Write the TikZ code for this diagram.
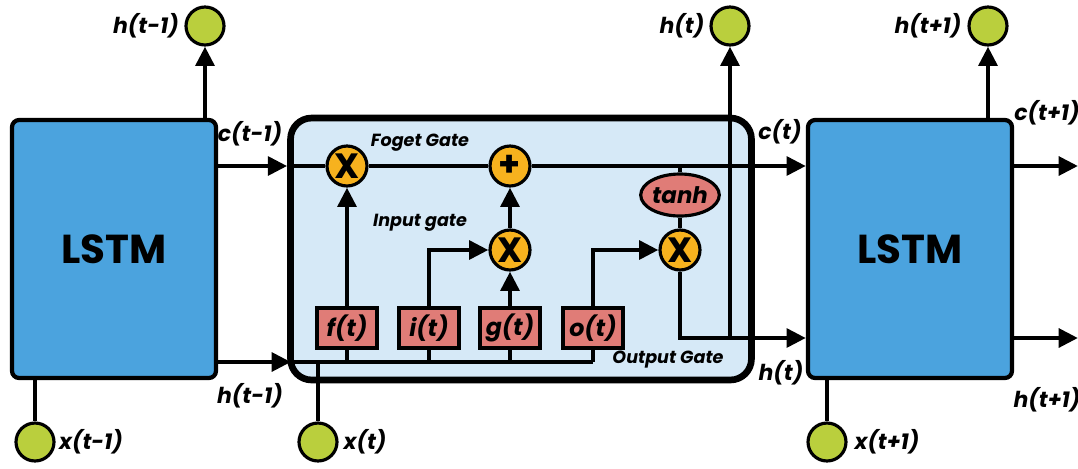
\documentclass[tikz,border=0pt]{standalone}
\usepackage{fontspec}
\setmainfont{Poppins}
\usepackage{tikz}
\usetikzlibrary{arrows.meta, positioning, shapes.geometric, calc}
\definecolor{lstmblue}{HTML}{4BA3DE}
\definecolor{cellblue}{HTML}{D6E9F7}
\definecolor{gatepink}{HTML}{E07C77}
\definecolor{opyellow}{HTML}{F7B21E}
\definecolor{iogreen}{HTML}{BACF3D}

\tikzset{
  wire/.style={line width=2.6pt},
  arr/.style={wire, -{Triangle[length=11pt,width=10.5pt]}},
  lstm/.style={draw, line width=2.4pt, fill=lstmblue, rounded corners=4pt,
    minimum width=4.08cm, minimum height=5.16cm,
    font=\fontsize{23}{25}\selectfont\bfseries},
  cellbox/.style={draw, line width=3.8pt, fill=cellblue, rounded corners=12pt,
    minimum width=9.22cm, minimum height=5.24cm},
  op/.style={circle, draw, line width=1.8pt, fill=opyellow, minimum size=0.8cm,
    inner sep=0pt, font=\fontsize{20}{20}\selectfont\bfseries},
  gatebox/.style={draw, line width=1.8pt, fill=gatepink, minimum width=1.2cm,
    minimum height=0.8cm, inner sep=0pt,
    font=\fontsize{13.5}{13.5}\selectfont\bfseries\itshape},
  act/.style={ellipse, draw, line width=1.8pt, fill=gatepink, minimum width=1.46cm,
    minimum height=0.84cm, inner sep=0pt,
    font=\fontsize{13}{13}\selectfont\bfseries\itshape},
  dot/.style={circle, draw, line width=1.8pt, fill=iogreen, minimum size=0.76cm},
  lab/.style={font=\fontsize{12.5}{12.5}\selectfont\bfseries\itshape},
  gatelab/.style={font=\fontsize{10}{10}\selectfont\bfseries\itshape}
}

\begin{document}
\begin{tikzpicture}[x=0.02cm, y=-0.02cm]
\useasboundingbox (0,0) rectangle (1078,468);

% neighbouring cells and the unrolled cell
\node[lstm] (L1) at (114,249) {LSTM};
\node[lstm] (L2) at (910,249) {LSTM};
\node[cellbox] (cell) at (521,249) {};

% operations inside the cell
\node[op] (mulF) at (347,166) {X};
\node[op] (add) at (510,166) {+};
\node[op] (mulI) at (510,250) {X};
\node[op] (mulO) at (680,250) {X};
\node[act] (tanh) at (680,195) {tanh};

\node[gatebox] (f) at (347,328) {f(t)};
\node[gatebox] (i) at (429,328) {i(t)};
\node[gatebox] (g) at (510,328) {g(t)};
\node[gatebox] (o) at (593,328) {o(t)};

% inputs and outputs
\node[dot] (hA) at (205,26) {};
\node[dot] (hB) at (730,26) {};
\node[dot] (hC) at (988,26) {};
\node[dot] (xA) at (35,442) {};
\node[dot] (xB) at (318,442) {};
\node[dot] (xC) at (827,442) {};

\coordinate (hin) at (291,362);
\coordinate (hjoin) at (730,338);
\coordinate (tap) at (680,166);
\coordinate (cout) at (1078,166);
\coordinate (hout) at (1078,338);

% cell state
\draw[arr] (L1.east |- mulF) -- (cell.west |- mulF);
\draw[wire] (cell.west |- mulF) -- (mulF);
\draw[wire] (mulF) -- (add);
\draw[arr] (add) -- (L2.west |- add);
\draw[wire] (tap) -- (tanh.north);
\draw[wire] (tanh.south) -- (mulO.north);

% hidden state in
\draw[arr] (L1.east |- hin) -- (hin);
\draw[wire] (hin) -- (o.south |- hin);
\draw[wire] (xB) -- (xB |- hin);
\foreach \b in {f,i,g,o}
  \draw[wire] (\b.south) -- (\b.south |- hin);

% gates
\draw[arr] (f.north) -- (mulF.south);
\draw[arr] (i.north) |- (mulI.west);
\draw[arr] (g.north) -- (mulI.south);
\draw[arr] (mulI.north) -- (add.south);
\draw[arr] (o.north) |- (mulO.west);

% hidden state out
\draw[arr] (mulO.south) |- (L2.west |- hjoin);
\draw[arr] (hjoin) -- (hB.south);

% outer cells
\draw[arr] (hA |- L1.north) -- (hA.south);
\draw[arr] (hC |- L2.north) -- (hC.south);
\draw[wire] (xA |- L1.south) -- (xA.north);
\draw[wire] (xC |- L2.south) -- (xC.north);
\draw[arr] (L2.east |- add) -- (cout);
\draw[arr] (L2.east |- hjoin) -- (hout);

% labels
\node[gatelab] (fgl) at (420,143) {Foget Gate};
\node[gatelab] (igl) at (420,223) {Input gate};
\node[gatelab] (ogl) at (668,360) {Output Gate};
\node[lab] (lc1) at (250,134) {c(t-1)};
\node[lab] (lh1) at (250,396) {h(t-1)};
\node[lab] (lhA) at (146,26) {h(t-1)};
\node[lab] (lxA) at (91,442) {x(t-1)};
\node[lab] (lxB) at (365,442) {x(t)};
\node[lab] (lc2) at (780,132) {c(t)};
\node[lab] (lh2) at (781,373) {h(t)};
\node[lab] (lhB) at (682,26) {h(t)};
\node[lab] (lhC) at (928,26) {h(t+1)};
\node[lab] (lc3) at (1047,113) {c(t+1)};
\node[lab] (lh3) at (1047,400) {h(t+1)};
\node[lab] (lxC) at (887,442) {x(t+1)};
\end{tikzpicture}
\end{document}
